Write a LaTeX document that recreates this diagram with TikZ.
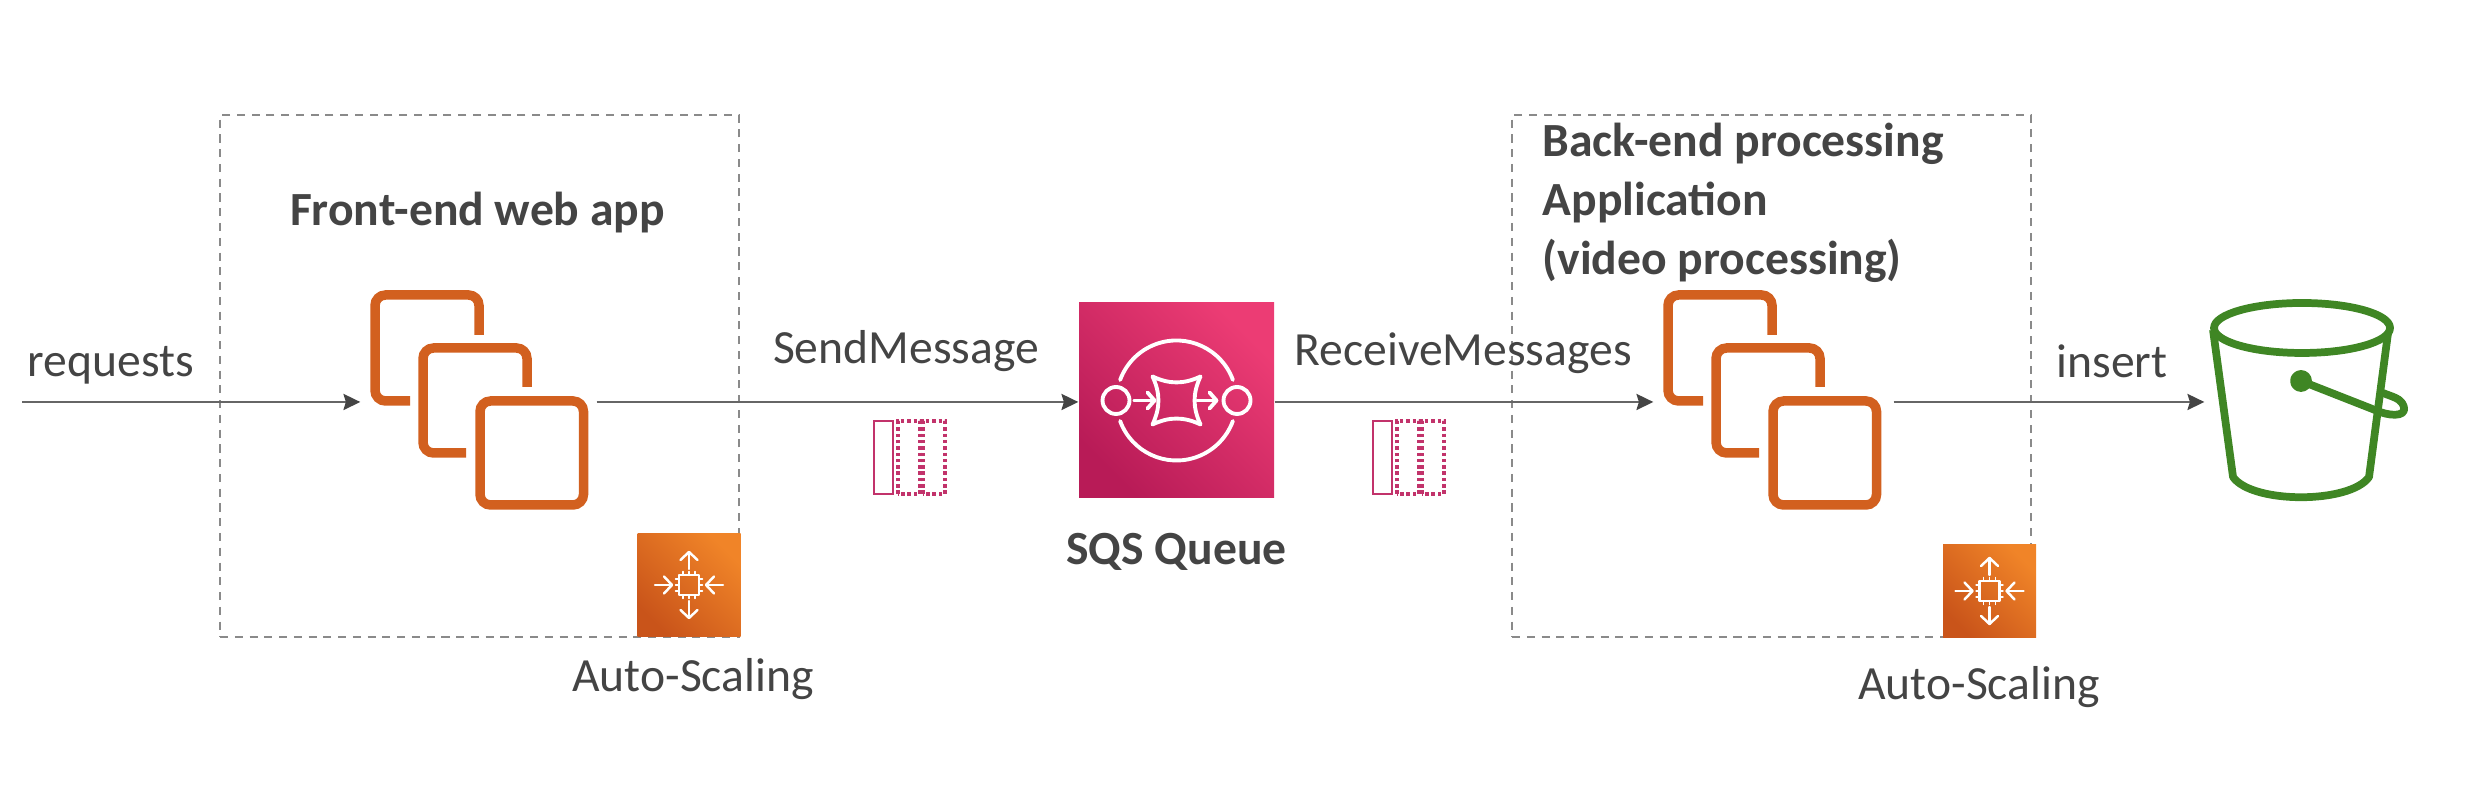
\documentclass[tikz,border=0pt]{standalone}
\usepackage{fontspec}
\setmainfont{Carlito}
\usetikzlibrary{positioning, arrows.meta}
\definecolor{inkgray}{HTML}{444444}
\definecolor{flowgray}{HTML}{666666}
\definecolor{dashgray}{HTML}{8A8A8A}
\definecolor{ectwo}{HTML}{D2601F}
\definecolor{bucketgreen}{HTML}{3F8624}
\definecolor{msgpink}{HTML}{C2336B}
\definecolor{sqsdark}{HTML}{B81B57}
\definecolor{sqslight}{HTML}{EC3C74}
\definecolor{scaledark}{HTML}{C9541A}
\definecolor{scalelight}{HTML}{F08428}
\tikzset{
  flow/.style={-{Stealth[length=4.8pt, width=4.6pt, inset=0.7pt, color=inkgray]}, flowgray, line width=0.55pt},
  groupbox/.style={draw=dashgray, dash pattern=on 2.3pt off 1.9pt, line width=0.6pt, minimum width=5.19cm, minimum height=5.22cm, inner sep=0pt},
  iconbox/.style={minimum width=2.35cm, minimum height=2.3cm, inner sep=0pt},
  stackline/.style={ectwo, line width=2.7pt, rounded corners=3pt},
  sqsbox/.style={minimum size=1.95cm, inner sep=0pt, left color=sqsdark, right color=sqslight, shading angle=135},
  scalebox/.style={minimum size=1.03cm, inner sep=0pt, left color=scaledark, right color=scalelight, shading angle=135},
  glyph/.style={white, line width=1.1pt, line cap=round, line join=round},
  scaleglyph/.style={white, line width=0.7pt, line cap=round, line join=round},
  label/.style={text=inkgray, font=\fontsize{13.55}{16}\selectfont, inner sep=0pt},
  title/.style={text=inkgray, font=\fontsize{13.55}{16.8}\selectfont\bfseries, inner sep=0pt},
  bucketline/.style={bucketgreen, line width=2.2pt, line join=round}
}
\newcommand{\appstack}[1]{
  \begin{scope}[shift={(#1)}]
    \draw[stackline] (0.005,0.67) -- (0.005,1.07) -- (-1.035,1.07) -- (-1.035,0.01) -- (-0.685,0.01);
    \draw[stackline] (0.485,0.15) -- (0.485,0.54) -- (-0.555,0.54) -- (-0.555,-0.51) -- (-0.125,-0.51);
    \draw[stackline] (0.015,0.01) rectangle (1.05,-1.03);
  \end{scope}
}
\newcommand{\msgicon}[1]{
  \begin{scope}[shift={(#1)}]
    \draw[msgpink, line width=0.8pt] (0,0) rectangle (0.19,0.73);
    \draw[msgpink, line width=0.95pt, dash pattern=on 1pt off 0.8pt] (0.24,0) rectangle (0.46,0.73);
    \draw[msgpink, line width=0.95pt, dash pattern=on 1pt off 0.8pt] (0.49,0) rectangle (0.71,0.73);
  \end{scope}
}
\newcommand{\scaleglyph}[1]{
  \begin{scope}[shift={(#1)}, scaleglyph]
    \draw (-0.1,-0.1) rectangle (0.1,0.1);
    \foreach \t in {-0.06,0,0.06} {
      \draw[line width=0.4pt] (\t,0.1) -- (\t,0.135);
      \draw[line width=0.4pt] (\t,-0.1) -- (\t,-0.135);
      \draw[line width=0.4pt] (0.1,\t) -- (0.135,\t);
      \draw[line width=0.4pt] (-0.1,\t) -- (-0.135,\t);
    }
    % vertical arrows point out, horizontal arrows point in
    \foreach \a in {90,270} {
      \begin{scope}[rotate=\a]
        \draw (0.16,0) -- (0.33,0);
        \draw (0.25,0.085) -- (0.33,0) -- (0.25,-0.085);
      \end{scope}
    }
    \foreach \a in {0,180} {
      \begin{scope}[rotate=\a]
        \draw (0.34,0) -- (0.17,0);
        \draw (0.25,0.085) -- (0.17,0) -- (0.25,-0.085);
      \end{scope}
    }
  \end{scope}
}
\begin{document}
\begin{tikzpicture}[>=stealth]
  \useasboundingbox (0,0) rectangle (24.66,7.98);
  % Dashed groups
  \node[groupbox] (frontgroup) at (4.795,4.22) {};
  \node[groupbox] (backgroup) at (17.715,4.22) {};
  % Icons as anchors for the arrows
  \node[iconbox] (web) at (4.785,3.96) {};
  \node[iconbox] (worker) at (17.715,3.96) {};
  \node[sqsbox] (sqs) at (11.765,3.975) {};
  \node[minimum width=1.94cm, minimum height=2.2cm, inner sep=0pt] (bucket) at (23.02,3.96) {};
  \coordinate (in) at (0.22,3.96);
  % EC2 stacks
  \appstack{web}
  \appstack{worker}
  % Queue glyph
  \begin{scope}[shift={(sqs.center)}, glyph]
    \draw (20:0.6) arc (20:160:0.6);
    \draw (200:0.6) arc (200:340:0.6);
    \draw (-0.605,0) circle (0.135);
    \draw (0.605,0) circle (0.135);
    \draw (-0.42,0) -- (-0.22,0);
    \draw (-0.29,0.08) -- (-0.22,0) -- (-0.29,-0.08);
    \draw (0.21,0) -- (0.4,0);
    \draw (0.33,0.08) -- (0.4,0) -- (0.33,-0.08);
    \draw (-0.24,0.24) to[bend right=25] (0.24,0.24) to[bend right=25] (0.24,-0.24)
      to[bend right=25] (-0.24,-0.24) to[bend right=25] cycle;
  \end{scope}
  % Auto-scaling boxes
  \node[scalebox] (frontscale) at (6.89,2.13) {};
  \node[scalebox, minimum size=0.93cm] (backscale) at (19.895,2.07) {};
  \scaleglyph{frontscale}
  \scaleglyph{backscale}
  % Bucket
  \begin{scope}[shift={(bucket.center)}, bucketline]
    \draw (0,0.74) ellipse (0.88 and 0.25);
    \draw (-0.89,0.72) -- (-0.69,-0.75) .. controls (-0.5,-1.02) and (0.48,-1.02) .. (0.67,-0.75) -- (0.86,0.69);
    \draw[fill=bucketgreen] (-0.01,0.21) circle (0.07);
    \draw (-0.01,0.21) -- (0.78,-0.10) .. controls (0.92,-0.15) and (1.08,-0.14) .. (1.0,-0.01)
      .. controls (0.97,0.04) and (0.88,0.06) .. (0.81,0.09);
  \end{scope}
  % Messages
  \msgicon{8.74,3.04}
  \msgicon{13.73,3.04}
  % Arrows
  \draw[flow] (in) -- (web.west);
  \draw[flow] (web.east) -- (web.east -| sqs.west);
  \draw[flow] (worker.west -| sqs.east) -- (worker.west);
  \draw[flow] ([xshift=0.04cm]worker.east) -- (bucket.west);
  % Labels
  \node[label] (requests) at (1.11,4.33) {requests};
  \node[label] (send) at (9.06,4.47) {SendMessage};
  \node[label] (receive) at (14.63,4.45) {ReceiveMessages};
  \node[label] (insert) at (21.12,4.37) {insert};
  \node[label] (frontauto) at (6.93,1.19) {Auto-Scaling};
  \node[label] (backauto) at (19.79,1.11) {Auto-Scaling};
  \node[title] (fronttitle) at (4.775,5.85) {Front-end web app};
  \node[title, align=left, anchor=north west] (backtitle) at (15.42,6.76) {Back-end processing\\Application\\(video processing)};
  \node[title] (sqstitle) [below=0.34cm of sqs] {SQS Queue};
\end{tikzpicture}
\end{document}
